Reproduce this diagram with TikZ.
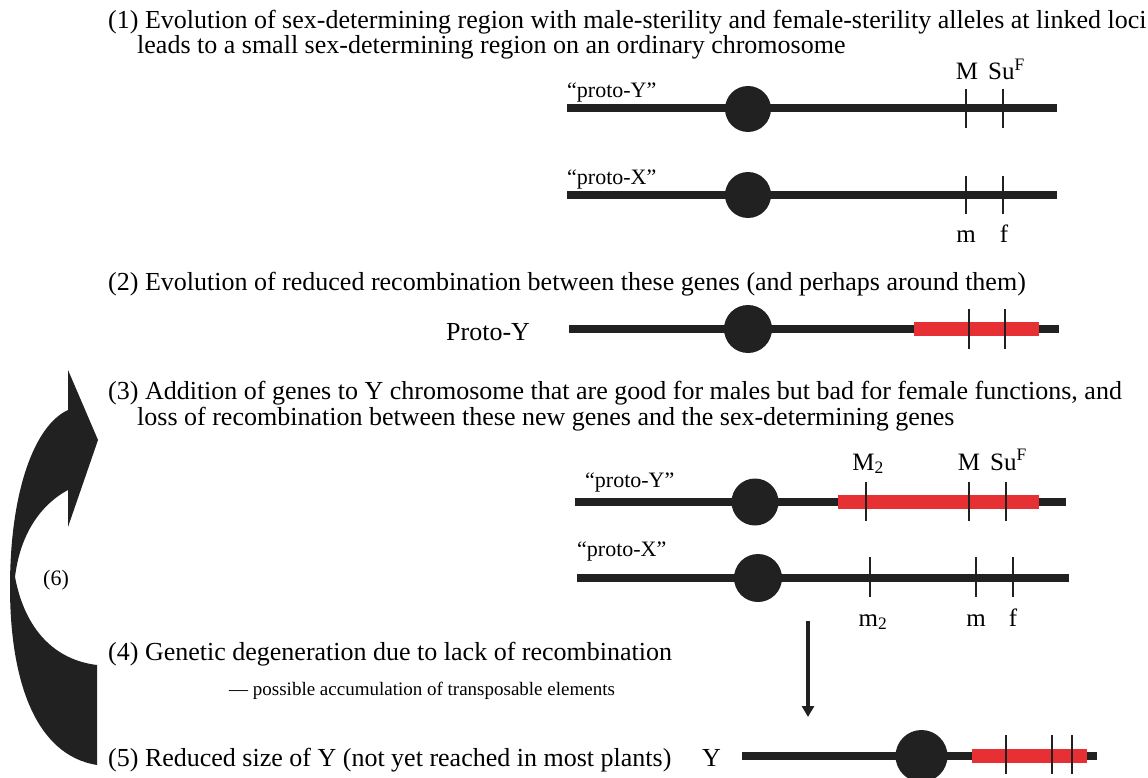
\documentclass[tikz,border=0pt]{standalone}
\usepackage{fontspec}
\setmainfont{Liberation Serif}
\usepackage{tikz}
\usetikzlibrary{arrows.meta}
\definecolor{chromblack}{RGB}{33,33,33}
\definecolor{recred}    {RGB}{230,48,52}
\tikzset{
  steptext/.style  ={anchor=base west, inner sep=0pt,
                     font=\fontsize{26}{28}\selectfont},
  subtext/.style   ={anchor=base west, inner sep=0pt,
                     font=\fontsize{19}{20}\selectfont},
  chromlabel/.style={anchor=base west, inner sep=0pt,
                     font=\fontsize{22}{24}\selectfont},
  genelabel/.style ={anchor=base, inner sep=0pt,
                     font=\fontsize{25}{26}\selectfont},
  chrom/.style     ={line width=8pt, draw=chromblack},
  centro/.style    ={fill=chromblack},
  norec/.style     ={line width=14pt, draw=recred},
  locus/.style     ={line width=1.4pt, draw=chromblack},
  downarr/.style   ={-{Triangle[length=11pt, width=12pt]}, line width=4pt,
                     draw=chromblack},
}

\begin{document}
\begin{tikzpicture}[x=1pt, y=-1pt]
  \useasboundingbox (0,0) rectangle (1148,778);

  % step texts
  \node[steptext] (step1a) at (108,29) {(1) Evolution of sex-determining region with male-sterility and female-sterility alleles at linked loci};
  \node[steptext] (step1b) at (137,54) {leads to a small sex-determining region on an ordinary chromosome};
  \node[steptext] (step2)  at (108,290) {(2) Evolution of reduced recombination between these genes (and perhaps around them)};
  \node[steptext] (step3a) at (108,399) {(3) Addition of genes to Y chromosome that are good for males but bad for female functions, and};
  \node[steptext] (step3b) at (137,425) {loss of recombination between these new genes and the sex-determining genes};
  \node[steptext] (step4)  at (108,660) {(4) Genetic degeneration due to lack of recombination};
  \node[subtext]  (step4b) at (229,695) {— possible accumulation of transposable elements};
  \node[steptext] (step5)  at (108,766) {(5) Reduced size of Y (not yet reached in most plants)};

  % (1) proto-Y / proto-X
  \node[chromlabel] (py1) at (567,98) {“proto-Y”};
  \draw[chrom] (567,108) -- (1057,108);
  \fill[centro] (748,109) circle[radius=23pt];
  \draw[locus] (966,89) -- (966,128);
  \draw[locus] (1003,89) -- (1003,128);
  \node[genelabel] (gM1) at (967,80) {M};
  \node[genelabel, anchor=base west] (gS1) at (988,80) {Su\textsuperscript{F}};

  \node[chromlabel] (px1) at (567,185) {“proto-X”};
  \draw[chrom] (567,195) -- (1057,195);
  \fill[centro] (748,195) circle[radius=23pt];
  \draw[locus] (966,176) -- (966,214);
  \draw[locus] (1003,176) -- (1003,214);
  \node[genelabel] (gm1) at (966,242) {m};
  \node[genelabel] (gf1) at (1004,242) {f};

  % (2) Proto-Y
  \node[steptext, font=\fontsize{26}{28}\selectfont] (py2) at (446,340) {Proto-Y};
  \draw[chrom] (569,329) -- (1059,329);
  \fill[centro] (748,329) circle[radius=24pt];
  \draw[norec] (914,329) -- (1039,329);
  \draw[locus] (969,309) -- (969,349);
  \draw[locus] (1005,309) -- (1005,349);

  % (3) proto-Y / proto-X
  \node[chromlabel] (py3) at (585,487) {“proto-Y”};
  \draw[chrom] (575,502) -- (1066,502);
  \fill[centro] (755,502) circle[radius=23.5pt];
  \draw[norec] (838,502) -- (1039,502);
  \draw[locus] (866,482) -- (866,521);
  \draw[locus] (969,482) -- (969,521);
  \draw[locus] (1006,482) -- (1006,521);
  \node[genelabel] (gM2) at (868,470) {M\textsubscript{2}};
  \node[genelabel] (gM3) at (969,470) {M};
  \node[genelabel, anchor=base west] (gS3) at (990,470) {Su\textsuperscript{F}};

  \node[chromlabel] (px3) at (577,556) {“proto-X”};
  \draw[chrom] (577,578) -- (1069,578);
  \fill[centro] (758,578) circle[radius=24pt];
  \draw[locus] (870,557) -- (870,597);
  \draw[locus] (976,557) -- (976,597);
  \draw[locus] (1013,557) -- (1013,597);
  \node[genelabel] (gm2) at (873,626) {m\textsubscript{2}};
  \node[genelabel] (gm3) at (976,626) {m};
  \node[genelabel] (gf3) at (1013,626) {f};

  % degeneration arrow
  \coordinate (arrtop) at (808,621);
  \coordinate (arrbot) at (808,717);
  \draw[downarr] (arrtop) -- (arrbot);

  % (5) Y
  \node[steptext] (ylab) at (702,766) {Y};
  \draw[chrom] (742,756) -- (1097,756);
  \fill[centro] (921.5,756) circle[radius=26pt];
  \draw[norec] (972,756) -- (1087,756);
  \draw[locus] (1006,735) -- (1006,774);
  \draw[locus] (1052,735) -- (1052,774);
  \draw[locus] (1072,735) -- (1072,774);

  % (6) cycle arrow
  \fill[chromblack] (97,765) .. controls (35,755) and (10,680) .. (10,587)
    .. controls (10,490) and (35,425) .. (68,410) -- (68,370) -- (98,440)
    -- (68,527) -- (68,490) .. controls (40,505) and (20,535) .. (15,577)
    .. controls (25,630) and (55,660) .. (97,665) -- cycle;
  \node[chromlabel, anchor=center] (lab6) at (56,580) {(6)};
\end{tikzpicture}
\end{document}
